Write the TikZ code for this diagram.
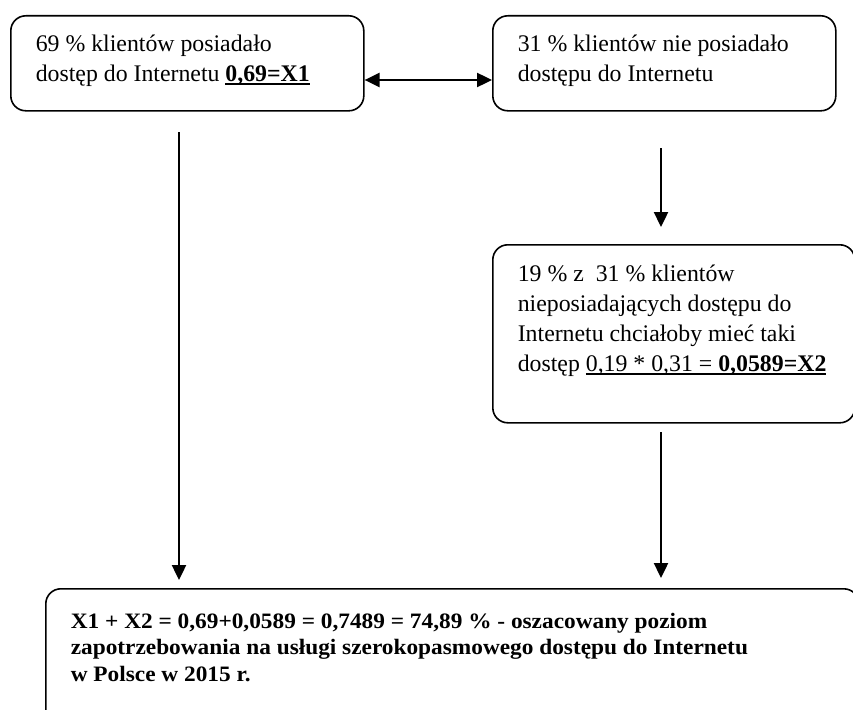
\documentclass[tikz,border=0pt]{standalone}
\usepackage{fontspec}
\setmainfont{Liberation Serif}
\newfontfamily\widebold[FakeStretch=1.06]{Liberation Serif}
\usetikzlibrary{arrows.meta}

% text of a box: width, height, top gap, text
\newcommand{\boxtext}[4]{\parbox[c][#2][t]{#1}{\raggedright\setlength{\leftskip}{25pt}\vspace*{#3}#4}}
\newcommand{\underl}[1]{\setbox0\hbox{#1}\rlap{\rule[-3.5pt]{\wd0}{1.6pt}}\box0}

\begin{document}
\begin{tikzpicture}[x=1pt,y=-1pt]

    \tikzset{
      box/.style={
        draw,
        line width=1.6pt,
        rounded corners=15pt,
        inner sep=0pt,
        anchor=north west,
        font=\fontsize{23.8}{30}\selectfont,
      },
      arr/.style={
        line width=2.4pt,
        -{Triangle[length=15pt,width=14pt]},
      },
    }
    \useasboundingbox (0,0) rectangle (853,709);
    \clip (0,0) rectangle (853,709);

    \node[box] (have) at (10,15) {\boxtext{353pt}{95pt}{19pt}{69 \% klientów posiadało\\dostęp do Internetu \underl{\textbf{0,69=X1}}}};
    \node[box] (nohave) at (492,15) {\boxtext{343pt}{95pt}{19pt}{31 \% klientów nie posiadało\\dostępu do Internetu}};
    \node[box] (want) at (492,244) {\boxtext{362pt}{178pt}{20pt}{19 \% z \ 31 \% klientów\\nieposiadających dostępu do\\Internetu chciałoby mieć taki\\dostęp \underl{0,19 * 0,31 = \textbf{0,0589=X2}}}};
    \node[box, font=\fontsize{22}{26.5}\widebold\bfseries] (total) at (45,588) {\boxtext{813pt}{150pt}{24pt}{X1 + X2 = 0,69+0,0589 = 0,7489 = 74,89 \% - oszacowany poziom\\zapotrzebowania na usługi szerokopasmowego dostępu do Internetu\\w Polsce w 2015 r.}};

    \coordinate (mid) at (427,80);
    \coordinate (l1) at (179,132);
    \coordinate (l2) at (179,580);
    \coordinate (r1) at (661,148);
    \coordinate (r2) at (661,227);
    \coordinate (r3) at (661,432);
    \coordinate (r4) at (661,578);

    \draw[arr, {Triangle[length=15pt,width=14pt]}-{Triangle[length=15pt,width=14pt]}] (have.east |- mid) -- (nohave.west |- mid);
    \draw[arr] (l1) -- (l2);
    \draw[arr] (r1) -- (r2);
    \draw[arr] (r3) -- (r4);

\end{tikzpicture}
\end{document}
